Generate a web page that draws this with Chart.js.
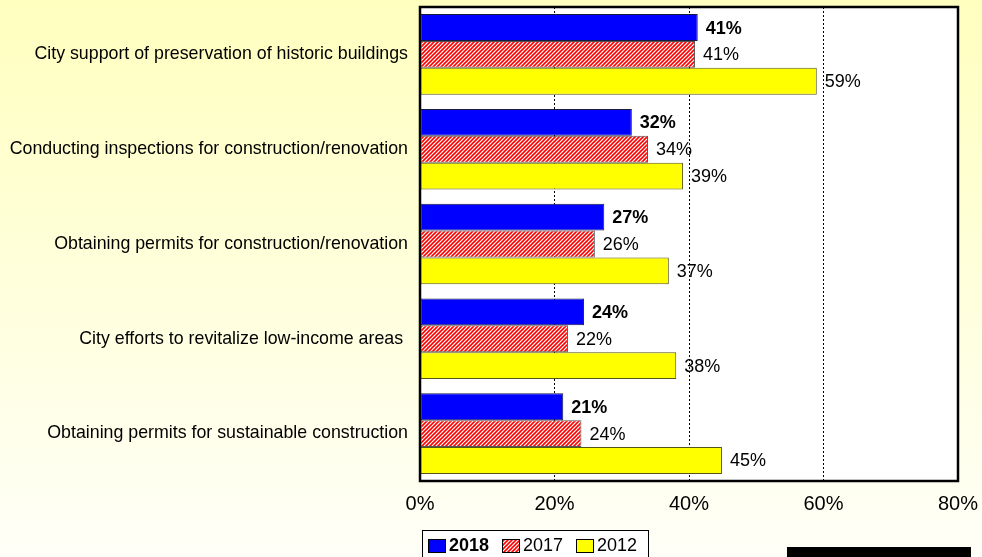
<!DOCTYPE html>
<html>
<head>
<meta charset="utf-8">
<script src="https://cdn.jsdelivr.net/npm/chart.js@4.4.1/dist/chart.umd.min.js"></script>
<style>
html,body{margin:0;padding:0;}
body{
    width:982px;
    height:557px;
    overflow:hidden;
    position:relative;
    background:linear-gradient(to bottom,#FFFFBF 0%,#FFFFF8 100%);
    font-family:"Liberation Sans",Arial,sans-serif;
}
#chart{position:absolute;left:0;top:0;}
.note{
    position:absolute;
    left:14px;
    top:555px;
    font-size:11px;
    line-height:12px;
    color:#888;
    white-space:nowrap;
}
.blackbox{
    position:absolute;
    left:787px;
    top:547px;
    width:184px;
    height:10px;
    background:#000;
}
</style>
</head>
<body>
<canvas id="chart" width="982" height="557"></canvas>
<div class="note">* Shows a statistically significant difference from prior survey year</div>
<div class="blackbox"></div>
<script>

// =========================
// DATA
// =========================

const categories = [
    "City support of preservation of historic buildings",
    "Conducting inspections for construction/renovation",
    "Obtaining permits for construction/renovation",
    "City efforts to revitalize low-income areas ",
    "Obtaining permits for sustainable construction"
];

const seriesNames = ["2018","2017","2012"];

const values2018 = [41.3, 31.5, 27.4, 24.4, 21.3];
const values2017 = [40.9, 33.9, 26.0, 22.0, 24.0];
const values2012 = [59.0, 39.1, 37.0, 38.1, 44.9];

const xTicks = [0, 20, 40, 60, 80];

const FONT = "'Liberation Sans', Arial, sans-serif";

const canvas = document.getElementById("chart");
const ctx = canvas.getContext("2d");

// =========================
// HATCH 2017
// =========================

function makeHatch(){
    const c = document.createElement("canvas");
    c.width = 4;
    c.height = 4;
    const g = c.getContext("2d");
    g.fillStyle = "#ffffff";
    g.fillRect(0,0,4,4);
    g.strokeStyle = "#ff0000";
    g.lineWidth = 1.6;
    g.beginPath();
    g.moveTo(0,4); g.lineTo(4,0);
    g.moveTo(-1,1); g.lineTo(1,-1);
    g.moveTo(3,5); g.lineTo(5,3);
    g.stroke();
    return ctx.createPattern(c,"repeat");
}

const hatch = makeHatch();

// =========================
// PLUGINS
// =========================

const plotArea = {
    id:"plotArea",
    beforeDraw(chart){
        const a = chart.chartArea;
        const c = chart.ctx;
        c.save();
        c.fillStyle = "#ffffff";
        c.fillRect(a.left, a.top, a.right - a.left, a.bottom - a.top);
        c.restore();
    },
    afterDatasetsDraw(chart){
        const a = chart.chartArea;
        const c = chart.ctx;
        c.save();
        c.strokeStyle = "#000";
        c.lineWidth = 2.5;
        c.strokeRect(a.left, a.top, a.right - a.left, a.bottom - a.top);
        c.restore();
    }
};

const barLabels = {
    id:"barLabels",
    afterDatasetsDraw(chart){
        const c = chart.ctx;
        chart.data.datasets.forEach((ds,i)=>{
            const meta = chart.getDatasetMeta(i);
            meta.data.forEach((bar,j)=>{
                c.save();
                c.font = (i === 0 ? "bold " : "") + "18px " + FONT;
                c.fillStyle = "#000";
                c.textAlign = "left";
                c.textBaseline = "middle";
                c.fillText(Math.round(ds.data[j]) + "%", bar.x + 8, bar.y + 1);
                c.restore();
            });
        });
    }
};

const legendBox = {
    id:"legendBox",
    afterDraw(chart){
        const c = chart.ctx;
        const sw = [428, 502, 576];
        c.save();
        c.fillStyle = "#ffffff";
        c.fillRect(422.5, 530.5, 226, 40);
        c.strokeStyle = "#000";
        c.lineWidth = 1;
        c.strokeRect(422.5, 530.5, 226, 40);
        chart.data.datasets.forEach((ds,i)=>{
            c.fillStyle = ds.backgroundColor;
            c.fillRect(sw[i] + 0.5, 539.5, 17, 13);
            c.strokeStyle = "#000";
            c.strokeRect(sw[i] + 0.5, 539.5, 17, 13);
            c.fillStyle = "#000";
            c.font = (i === 0 ? "bold " : "") + "18px " + FONT;
            c.textAlign = "left";
            c.textBaseline = "middle";
            c.fillText(ds.label, sw[i] + 21, 546.5);
        });
        c.restore();
    }
};

// =========================
// CHART
// =========================

new Chart(ctx,{

    type:"bar",

    data:{

        labels:categories,

        datasets:[
            {
                label:seriesNames[0],
                data:values2018,
                backgroundColor:"#0000ff",
                borderColor:"#1a1a40",
                borderWidth:1,
                borderSkipped:false
            },
            {
                label:seriesNames[1],
                data:values2017,
                backgroundColor:hatch,
                borderColor:"#555555",
                borderWidth:1,
                borderSkipped:false
            },
            {
                label:seriesNames[2],
                data:values2012,
                backgroundColor:"#ffff00",
                borderColor:"#55551a",
                borderWidth:1,
                borderSkipped:false
            }
        ]
    },

    options:{

        indexAxis:"y",

        responsive:false,

        animation:false,

        categoryPercentage:0.85,

        barPercentage:1,

        layout:{
            padding:{top:7, right:24, left:0, bottom:0}
        },

        plugins:{
            legend:{display:false},
            tooltip:{enabled:false}
        },

        scales:{

            x:{
                min:xTicks[0],
                max:xTicks[xTicks.length - 1],
                afterBuildTicks(scale){
                    scale.ticks = xTicks.map(v => ({value:v}));
                },
                afterFit(scale){
                    scale.height = 76;
                    scale.paddingLeft = 0;
                    scale.paddingRight = 0;
                },
                ticks:{
                    padding:11,
                    color:"#000",
                    font:{family:FONT, size:20},
                    callback:v => v + "%"
                },
                grid:{
                    drawTicks:false,
                    lineWidth:1,
                    color:c => (c.index > 0 && c.index < xTicks.length - 1) ? "#000" : "rgba(0,0,0,0)"
                },
                border:{
                    display:false,
                    dash:[2,2]
                }
            },

            y:{
                afterFit(scale){
                    scale.width = 420;
                    scale.paddingTop = 0;
                    scale.paddingBottom = 0;
                },
                ticks:{
                    padding:12,
                    color:"#000",
                    font:{family:FONT, size:17.8}
                },
                grid:{
                    display:false,
                    drawTicks:false
                },
                border:{display:false}
            }
        }
    },

    plugins:[plotArea, barLabels, legendBox]
});

</script>
</body>
</html>
